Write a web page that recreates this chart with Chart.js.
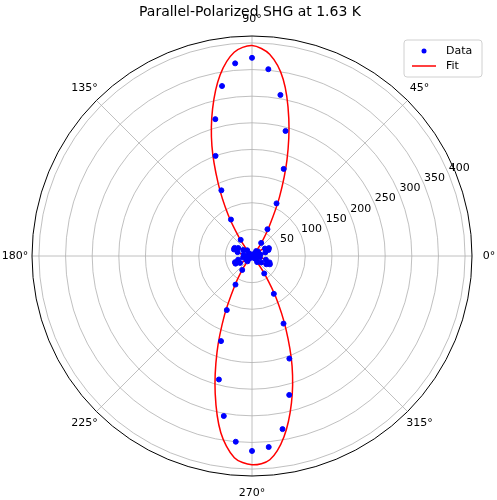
<!DOCTYPE html>
<html>
<head>
<meta charset="utf-8">
<script src="https://cdn.jsdelivr.net/npm/chart.js@4"></script>
<style>
  body { margin: 0; background: #fff; }
  #wrap { width: 497px; height: 500px; }
</style>
</head>
<body>
<div id="wrap"><canvas id="polarChart"></canvas></div>
<script>
// measured data, angle in degrees, SHG intensity
const dataAngles = [0,5,10,15,20,25,30,35,40,45,50,55,60,65,70,75,80,85,90,95,100,105,110,115,120,125,130,135,140,145,150,155,160,165,170,175,
  180,185,190,195,200,205,210,215,220,225,230,235,240,245,250,255,260,265,270,275,280,285,290,295,300,305,310,315,320,325,330,335,340,345,350,355];
const dataValues = [4,8,16,26,33,35,28,14,6,5,12,30,58,109,174,243,307,352,372,363,324,266,200,136,79,37,14,5,8,20,30,36,36,28,16,7,
  4,9,17,27,34,34,26,13,5,6,13,32,62,112,170,240,305,350,366,360,330,270,205,140,82,40,15,5,9,21,31,37,35,27,15,6];

// fitted curve sampled every 5 degrees
const fitAngles = [0,5,10,15,20,25,30,35,40,45,50,55,60,65,70,75,80,85,90,95,100,105,110,115,120,125,130,135,140,145,150,155,160,165,170,175,
  180,185,190,195,200,205,210,215,220,225,230,235,240,245,250,255,260,265,270,275,280,285,290,295,300,305,310,315,320,325,330,335,340,345,350,355,360];
const fitValues = [3,9,18,29,37,38,30,15,3,2,14,34,66,122,192,267,337,380,395,384,345,286,220,150,90,42,14,2,7,22,34,40,39,30,18,7,
  3,9,18,29,37,38,30,15,3,2,14,34,66,122,192,267,337,380,392,384,345,286,220,150,90,42,14,2,7,22,34,40,39,30,18,7,3];

const ringTicks = [50,100,150,200,250,300,350,400];
const spokeAngles = [0,45,90,135,180,225,270,315];
const rMax = 413;

function toXY(angles, values) {
  return angles.map((a, i) => ({
    x: values[i] * Math.cos(a * Math.PI / 180),
    y: values[i] * Math.sin(a * Math.PI / 180)
  }));
}

const polarGrid = {
  id: 'polarGrid',
  beforeDatasetsDraw(chart) {
    const { ctx, scales: { x, y } } = chart;
    const cx = x.getPixelForValue(0), cy = y.getPixelForValue(0);
    const pr = v => x.getPixelForValue(v) - cx;
    ctx.save();
    ctx.strokeStyle = '#b0b0b0';
    ctx.lineWidth = 0.8;
    ringTicks.forEach(t => {
      ctx.beginPath(); ctx.arc(cx, cy, pr(t), 0, Math.PI * 2); ctx.stroke();
    });
    spokeAngles.forEach(a => {
      const r = a * Math.PI / 180;
      ctx.beginPath(); ctx.moveTo(cx, cy);
      ctx.lineTo(cx + pr(rMax) * Math.cos(r), cy - pr(rMax) * Math.sin(r)); ctx.stroke();
    });
    ctx.strokeStyle = '#000'; ctx.lineWidth = 1;
    ctx.beginPath(); ctx.arc(cx, cy, pr(rMax), 0, Math.PI * 2); ctx.stroke();

    ctx.fillStyle = '#000';
    ctx.font = '11px "DejaVu Sans"';
    ctx.textAlign = 'center'; ctx.textBaseline = 'middle';
    spokeAngles.forEach(a => {
      const r = a * Math.PI / 180, d = pr(rMax) + 17;
      ctx.fillText(a + '°', cx + d * Math.cos(r), cy - d * Math.sin(r));
    });
    const la = 22.5 * Math.PI / 180;
    ringTicks.forEach(t => {
      const d = pr(t) + 9;
      ctx.fillText(String(t), cx + d * Math.cos(la) + 2, cy - d * Math.sin(la) - 3);
    });
    ctx.restore();
  },
  afterDraw(chart) {
    const ctx = chart.ctx;
    ctx.save();
    ctx.fillStyle = '#000';
    ctx.font = '14px "DejaVu Sans"';
    ctx.textAlign = 'center'; ctx.textBaseline = 'middle';
    ctx.fillText('Parallel-Polarized SHG at 1.63 K', 250, 12);
    // legend
    ctx.fillStyle = 'rgba(255,255,255,0.8)';
    ctx.strokeStyle = '#d0d0d0';
    ctx.beginPath(); ctx.roundRect(404, 40, 78, 37, 3); ctx.fill(); ctx.stroke();
    ctx.fillStyle = 'blue';
    ctx.beginPath(); ctx.arc(424, 51, 2.5, 0, Math.PI * 2); ctx.fill();
    ctx.strokeStyle = 'red'; ctx.lineWidth = 1.5;
    ctx.beginPath(); ctx.moveTo(412, 66); ctx.lineTo(436, 66); ctx.stroke();
    ctx.fillStyle = '#000'; ctx.font = '11px "DejaVu Sans"'; ctx.textAlign = 'left';
    ctx.fillText('Data', 446, 51);
    ctx.fillText('Fit', 446, 66);
    ctx.restore();
  }
};

new Chart(document.getElementById('polarChart'), {
  type: 'scatter',
  data: {
    datasets: [
      {
        label: 'Fit',
        data: toXY(fitAngles, fitValues),
        showLine: true,
        borderColor: 'red',
        borderWidth: 1.5,
        pointRadius: 0,
        tension: 0.3,
        order: 2
      },
      {
        label: 'Data',
        data: toXY(dataAngles, dataValues),
        backgroundColor: 'blue',
        borderColor: 'blue',
        pointRadius: 2.5,
        order: 1
      }
    ]
  },
  options: {
    responsive: true,
    maintainAspectRatio: false,
    animation: false,
    layout: { padding: { left: 32, right: 25, top: 36, bottom: 24 } },
    plugins: { legend: { display: false }, tooltip: { enabled: false } },
    scales: {
      x: { min: -rMax, max: rMax, display: false },
      y: { min: -rMax, max: rMax, display: false }
    }
  },
  plugins: [polarGrid]
});
</script>
</body>
</html>
